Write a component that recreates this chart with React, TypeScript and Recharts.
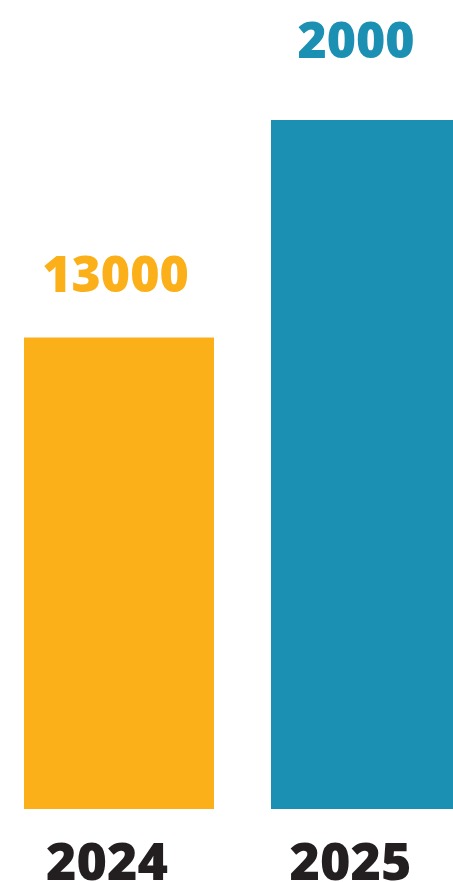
import React from "react";
import { BarChart, Bar, XAxis, YAxis, Cell, LabelList } from "recharts";

const years = ["2024", "2025"];
const values = [13000, 19000];
const valueLabels = ["13000", "2000"];
const barColors = ["#FBAF19", "#1B90B3"];

const data = years.map((year, i) => ({ year, value: values[i], label: valueLabels[i] }));

const FONT = "'Open Sans', sans-serif";

// small nudges so the texts sit where the original artwork has them
const labelDx = [-3.5, -10];
const labelGap = [46, 62];
const tickDx = [-11.5, -15];

function YearTick(props: any) {
  const { x, y, payload, index } = props;
  return (
    <text
      x={x + tickDx[index]}
      y={y}
      dy={63}
      textAnchor="middle"
      fontFamily={FONT}
      fontWeight={800}
      fontSize={52}
      fill="#231F20"
    >
      {payload.value}
    </text>
  );
}

function ValueLabel(props: any) {
  const { x, y, width, index } = props;
  return (
    <text
      x={x + width / 2 + labelDx[index]}
      y={y - labelGap[index]}
      textAnchor="middle"
      fontFamily={FONT}
      fontWeight={800}
      fontSize={50}
      fill={barColors[index]}
    >
      {valueLabels[index]}
    </text>
  );
}

export default function App() {
  return (
    <div
      style={{
        position: "absolute",
        left: 0,
        top: 0,
        width: 453,
        height: 882,
        overflow: "hidden",
        background: "#fff",
      }}
    >
      <div style={{ position: "relative", left: -5.5 }}>
        <BarChart
          width={494}
          height={882}
          data={data}
          margin={{ top: 120, right: 0, left: 0, bottom: 0 }}
          barSize={190}
        >
          <XAxis
            dataKey="year"
            axisLine={false}
            tickLine={false}
            height={73}
            interval={0}
            tick={<YearTick />}
          />
          <YAxis hide domain={[0, 19000]} />
          <Bar dataKey="value" isAnimationActive={false}>
            {data.map((d, i) => (
              <Cell key={d.year} fill={barColors[i]} />
            ))}
            <LabelList dataKey="label" content={<ValueLabel />} />
          </Bar>
        </BarChart>
      </div>
    </div>
  );
}
